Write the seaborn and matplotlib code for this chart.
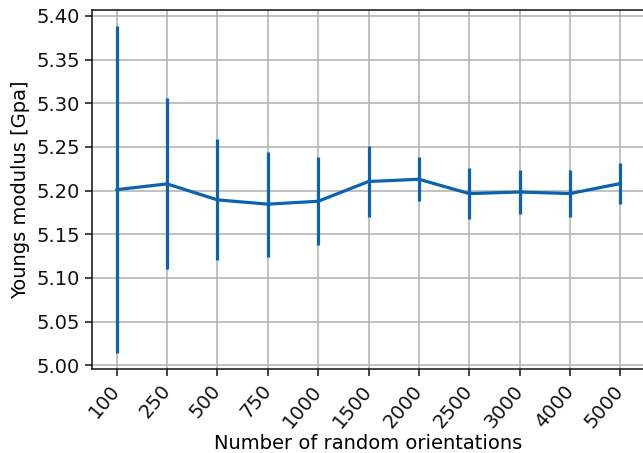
import numpy as np
import pandas as pd
import matplotlib
matplotlib.use("Agg")
import matplotlib.pyplot as plt
import seaborn as sns

# --- Data ---
orientations = ["100", "250", "500", "750", "1000", "1500",
                "2000", "2500", "3000", "4000", "5000"]
modulus = [5.201, 5.2076, 5.1893, 5.1844, 5.1877, 5.2103,
           5.2129, 5.1965, 5.1983, 5.1965, 5.2080]
modulus_err = [0.187, 0.0979, 0.0693, 0.0602, 0.0503, 0.0403,
               0.0251, 0.0296, 0.0250, 0.0265, 0.0240]

df = pd.DataFrame({"n": orientations, "E": modulus, "err": modulus_err})

# --- Style ---
sns.set_style("ticks", {"axes.grid": True, "grid.color": "#b0b0b0",
                        "axes.edgecolor": "#111111", "text.color": "black",
                        "axes.labelcolor": "black", "xtick.color": "#111111",
                        "ytick.color": "#111111"})
plt.rcParams["font.family"] = ["DejaVu Sans"]
plt.rcParams["font.size"] = 14
plt.rcParams["axes.linewidth"] = 1.1
plt.rcParams["grid.linewidth"] = 1.1

color = "#0a62b0"

fig = plt.figure(figsize=(6.43, 4.53), dpi=100)
ax = fig.add_axes([91.5 / 643, 1 - 369.3 / 453, 554 / 643, 359.3 / 453])

sns.lineplot(data=df, x="n", y="E", color=color, linewidth=2.3, ax=ax,
             sort=False)
ax.errorbar(df["n"], df["E"], yerr=df["err"], fmt="none",
            ecolor=color, elinewidth=2.3, capsize=0)

ax.set_xlabel("Number of random orientations", fontsize=14, labelpad=2)
ax.set_ylabel("Youngs modulus [Gpa]", fontsize=14)
ax.yaxis.set_major_formatter(matplotlib.ticker.FormatStrFormatter("%.2f"))
ax.tick_params(labelsize=14, length=5, width=1.1)
ax.tick_params(axis="x", pad=8)
plt.setp(ax.get_xticklabels(), rotation=50, ha="right",
         rotation_mode="anchor", va="center")
ax.set_axisbelow(True)

fig.savefig("out.png", dpi=100)
